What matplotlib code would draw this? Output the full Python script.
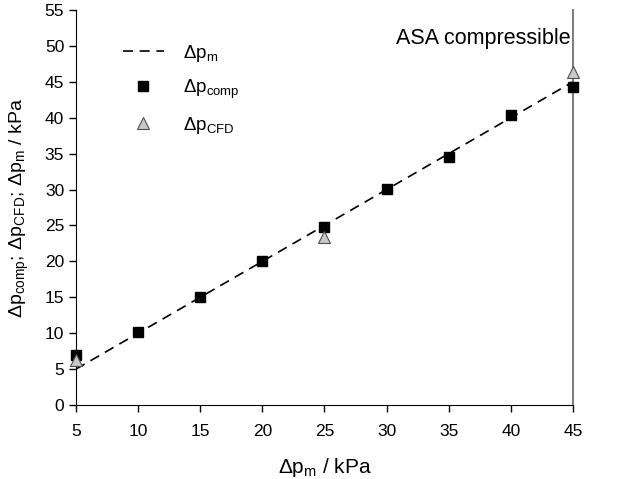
import matplotlib
matplotlib.use("Agg")
import matplotlib.pyplot as plt

plt.rcParams["font.family"] = ["Liberation Sans", "DejaVu Sans"]
plt.rcParams["mathtext.fontset"] = "custom"
plt.rcParams["mathtext.rm"] = "Liberation Sans"
plt.rcParams["mathtext.it"] = "Liberation Sans:italic"
plt.rcParams["mathtext.default"] = "regular"

# Data
dp_m_line = [5, 45]
dp_m = [5, 10, 15, 20, 25, 30, 35, 40, 45]
dp_comp = [7.0, 10.2, 15.1, 20.0, 24.8, 30.1, 34.6, 40.4, 44.3]
dp_cfd_x = [5, 25, 45]
dp_cfd = [6.3, 23.4, 46.4]

fig = plt.figure(figsize=(6.2, 4.79), dpi=100)
ax = fig.add_axes([0.1226, 0.1545, 0.8014, 0.8245])

ax.plot(dp_m_line, dp_m_line, color="black", linestyle=(0, (6, 4)), linewidth=1.2,
        label=r"Δp$_{m}$", zorder=2)
ax.plot(dp_m, dp_comp, linestyle="none", marker="s", markersize=7.5, color="black",
        label=r"Δp$_{comp}$", zorder=3, clip_on=False)
ax.plot(dp_cfd_x, dp_cfd, linestyle="none", marker="^", markersize=9,
        markerfacecolor="#c8c8c8", markeredgecolor="#505050", markeredgewidth=0.8,
        label=r"Δp$_{CFD}$", zorder=4, clip_on=False)

ax.set_xlim(5, 45)
ax.set_ylim(0, 55)
ax.set_xticks(range(5, 46, 5))
ax.set_yticks(range(0, 56, 5))
ax.tick_params(labelsize=12.5, direction="out", length=5, width=1)
ax.tick_params(axis="x", pad=9)

ax.spines["top"].set_visible(False)
ax.spines["right"].set_color("#808080")
ax.spines["right"].set_linewidth(1.5)

ax.set_xlabel(r"Δp$_{m}$ / kPa", fontsize=15, labelpad=12)
ax.set_ylabel(r"Δp$_{comp}$; Δp$_{CFD}$; Δp$_{m}$ / kPa", fontsize=14, labelpad=10)

ax.text(0.995, 0.955, "ASA compressible", transform=ax.transAxes, fontsize=15.5,
        ha="right", va="top")

ax.legend(loc="upper left", bbox_to_anchor=(0.06, 0.96), frameon=False, fontsize=13.5,
          handlelength=2.2, labelspacing=0.75, handletextpad=1.0, markerscale=0.9)

fig.savefig("out.png", dpi=100)
